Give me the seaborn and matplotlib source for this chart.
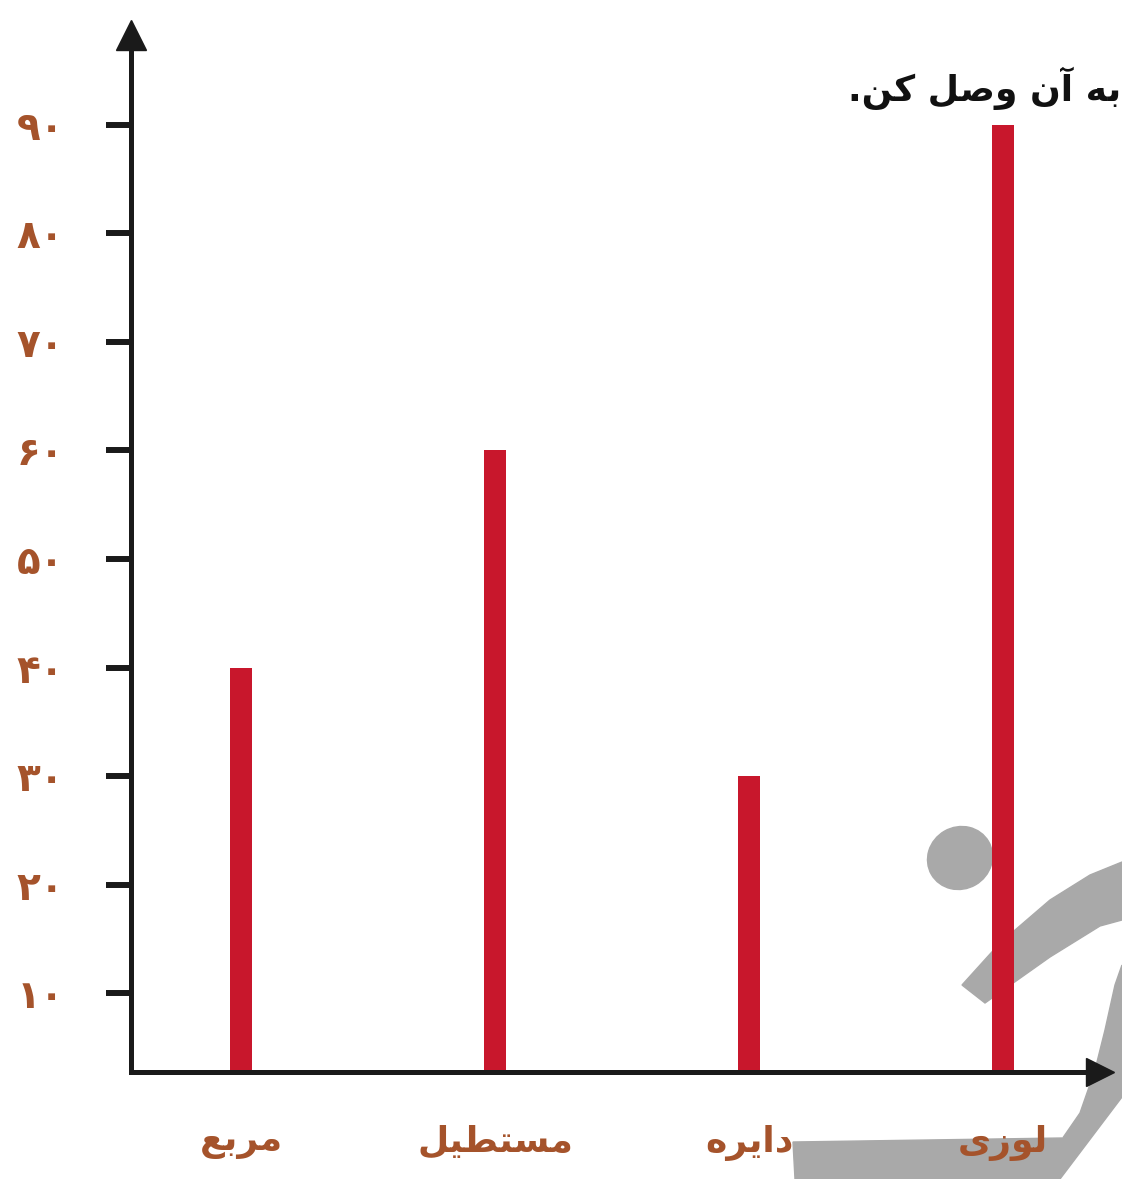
import numpy as np
import pandas as pd
import matplotlib
matplotlib.use("Agg")
import matplotlib.pyplot as plt
from matplotlib.patches import Polygon, Ellipse
import seaborn as sns

# données
categories = ["مربع", "مستطیل", "دایره", "لوزی"]
valeurs = [40, 60, 30, 90]
yticks = [10, 20, 30, 40, 50, 60, 70, 80, 90]
ytick_labels = ["۱۰", "۲۰", "۳۰", "۴۰", "۵۰", "۶۰", "۷۰", "۸۰", "۹۰"]
titre = "به آن وصل کن."

# formes de présentation arabes (matplotlib ne fait pas le shaping)
FORMES = {
    "ا": ("\uFE8D", "\uFE8E", None, None),
    "آ": ("\uFE81", "\uFE82", None, None),
    "ب": ("\uFE8F", "\uFE90", "\uFE91", "\uFE92"),
    "ت": ("\uFE95", "\uFE96", "\uFE97", "\uFE98"),
    "د": ("\uFEA9", "\uFEAA", None, None),
    "ر": ("\uFEAD", "\uFEAE", None, None),
    "ز": ("\uFEAF", "\uFEB0", None, None),
    "س": ("\uFEB1", "\uFEB2", "\uFEB3", "\uFEB4"),
    "ص": ("\uFEB9", "\uFEBA", "\uFEBB", "\uFEBC"),
    "ط": ("\uFEC1", "\uFEC2", "\uFEC3", "\uFEC4"),
    "ع": ("\uFEC9", "\uFECA", "\uFECB", "\uFECC"),
    "ک": ("\uFB8E", "\uFB8F", "\uFB90", "\uFB91"),
    "ل": ("\uFEDD", "\uFEDE", "\uFEDF", "\uFEE0"),
    "م": ("\uFEE1", "\uFEE2", "\uFEE3", "\uFEE4"),
    "ن": ("\uFEE5", "\uFEE6", "\uFEE7", "\uFEE8"),
    "ه": ("\uFEE9", "\uFEEA", "\uFEEB", "\uFEEC"),
    "و": ("\uFEED", "\uFEEE", None, None),
    "ی": ("\uFBFC", "\uFBFD", "\uFBFE", "\uFBFF"),
}


def shape(txt):
    out = []
    for i, c in enumerate(txt):
        if c not in FORMES:
            out.append(c)
            continue
        prev = txt[i - 1] if i > 0 else ""
        nxt = txt[i + 1] if i < len(txt) - 1 else ""
        j_prev = prev in FORMES and FORMES[prev][2] is not None
        j_next = FORMES[c][2] is not None and nxt in FORMES
        iso, fin, ini, med = FORMES[c]
        if j_prev and j_next:
            out.append(med)
        elif j_prev:
            out.append(fin)
        elif j_next:
            out.append(ini)
        else:
            out.append(iso)
    return "".join(out)[::-1]


df = pd.DataFrame({"forme": categories, "valeur": valeurs})

W, H = 1122, 1179
fig = plt.figure(figsize=(W / 100, H / 100), dpi=100)
fig.patch.set_facecolor("white")

brun = "#a5532b"
rouge = "#c8172c"
gris = "#a9a9a9"

# filigrane gris en bas à droite
def px(pts):
    return [(x, H - y) for x, y in pts]

wm = [
    Ellipse((960, H - 858), 66, 62, angle=30, color=gris),
    Polygon(px([(962, 985), (1000, 943), (1050, 900), (1090, 875), (1122, 862),
                (1122, 920), (1100, 926), (1050, 957), (985, 1003)]), color=gris),
    Polygon(px([(1122, 965), (1122, 1097), (1060, 1179), (1045, 1179), (1060, 1142),
                (1080, 1113), (1095, 1070), (1105, 1030), (1115, 985)]), color=gris),
    Polygon(px([(793, 1142), (1062, 1138), (1052, 1179), (795, 1179)]), color=gris),
]
for p in wm:
    p.set_transform(None)
    p.set_zorder(0)
    fig.patches.append(p)

ax = fig.add_axes([131 / W, (H - 1072) / H, (1100 - 131) / W, (1072 - 35) / H])
ax.set_facecolor("none")
ax.set_zorder(1)

sns.barplot(data=df, x="forme", y="valeur", color=rouge, width=0.087,
            saturation=1, ax=ax)

ax.set_xlim(-0.433, 3.382)
ax.set_ylim(2.76, 98.26)

for s in ["top", "right"]:
    ax.spines[s].set_visible(False)
for s in ["left", "bottom"]:
    ax.spines[s].set_linewidth(3.6)
    ax.spines[s].set_color("#1a1a1a")

# flèches des axes
ax.plot(0, 1, marker="^", ms=22, color="#1a1a1a", transform=ax.transAxes, clip_on=False)
ax.plot(1, 0, marker=">", ms=20, color="#1a1a1a", transform=ax.transAxes, clip_on=False)

ax.set_yticks(yticks)
ax.set_yticklabels(ytick_labels, color=brun, fontsize=28, fontweight="bold",
                   family="DejaVu Sans")
ax.tick_params(axis="y", length=18, width=4.3, color="#1a1a1a", pad=30)

ax.set_xticks(range(len(categories)))
ax.set_xticklabels([shape(c) for c in categories], color=brun, fontsize=26,
                   fontweight="bold", family="DejaVu Sans")
ax.tick_params(axis="x", length=0, pad=38)
ax.set_xlabel("")
ax.set_ylabel("")

fig.text(848 / W, 1 - 88 / H, shape(titre), fontsize=26, fontweight="bold",
         family="DejaVu Sans", ha="left", va="center", color="#111111")

fig.savefig("out.png", dpi=100)
